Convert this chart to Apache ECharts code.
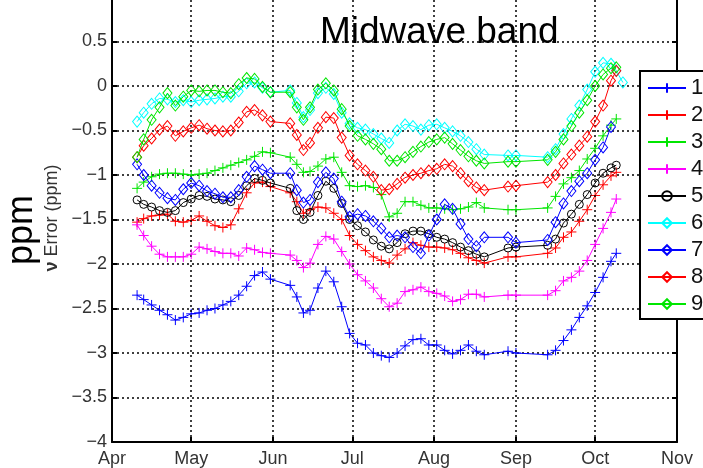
<!DOCTYPE html>
<html>
<head>
<meta charset="utf-8">
<script src="https://cdn.jsdelivr.net/npm/echarts@6/dist/echarts.min.js"></script>
<style>html,body{margin:0;padding:0;background:#fff;}#c{width:703px;height:468px;}</style>
</head>
<body>
<div id="c"></div>
<script>
// Day offsets from Apr 1
var days = [9.5, 12, 15, 18, 21, 24, 27, 30, 33, 36, 39, 42, 45, 48, 51, 54, 57, 60, 67.5, 70, 72.5, 75, 78, 81, 84, 87, 90, 93, 96, 99, 102, 105, 108, 111, 114, 117, 120, 123, 126, 129, 132, 135, 138, 141, 150, 153, 165, 168, 171, 174, 177, 180, 183, 186, 189, 191, 193.5];
var monthDays = [0, 30, 61, 91, 122, 153, 183, 214];
var monthLabels = ['Apr', 'May', 'Jun', 'Jul', 'Aug', 'Sep', 'Oct', 'Nov'];
var seriesNames = ['1', '2', '3', '4', '5', '6', '7', '8', '9'];

var s1 = [-2.35,-2.40,-2.46,-2.52,-2.57,-2.63,-2.60,-2.56,-2.55,-2.52,-2.50,-2.46,-2.42,-2.35,-2.25,-2.13,-2.09,-2.17,-2.24,-2.37,-2.55,-2.52,-2.27,-2.08,-2.20,-2.48,-2.78,-2.89,-2.91,-3.00,-3.03,-3.05,-3.00,-2.92,-2.85,-2.84,-2.91,-2.91,-2.97,-3.01,-2.97,-2.91,-2.98,-3.02,-2.98,-3.00,-3.02,-2.97,-2.86,-2.74,-2.60,-2.47,-2.32,-2.15,-1.97,-1.88,null];
var s2 = [-1.53,-1.49,-1.46,-1.45,-1.44,-1.52,-1.53,-1.51,-1.46,-1.52,-1.57,-1.59,-1.56,-1.38,-1.20,-1.09,-1.08,-1.13,-1.20,-1.30,-1.43,-1.39,-1.36,-1.37,-1.43,-1.50,-1.68,-1.78,-1.85,-1.92,-1.96,-1.99,-1.90,-1.83,-1.76,-1.79,-1.81,-1.81,-1.82,-1.84,-1.88,-1.93,-1.96,-1.99,-1.92,-1.92,-1.88,-1.82,-1.70,-1.64,-1.52,-1.39,-1.23,-1.11,-1.01,-0.97,null];
var s3 = [-1.15,-1.08,-1.02,-0.99,-0.98,-0.98,-0.99,-1.00,-0.99,-0.98,-0.95,-0.92,-0.89,-0.86,-0.83,-0.79,-0.74,-0.75,-0.80,-0.88,-0.97,-0.96,-0.90,-0.82,-0.80,-0.97,-1.12,-1.13,-1.12,-1.14,-1.22,-1.47,-1.43,-1.30,-1.30,-1.34,-1.37,-1.37,-1.38,-1.39,-1.38,-1.36,-1.31,-1.37,-1.39,-1.39,-1.37,-1.24,-1.10,-1.03,-0.95,-0.82,-0.70,-0.56,-0.44,-0.37,null];
var s4 = [-1.56,-1.68,-1.80,-1.89,-1.92,-1.92,-1.92,-1.89,-1.81,-1.83,-1.86,-1.88,-1.88,-1.91,-1.82,-1.84,-1.87,-1.88,-1.90,-1.96,-2.04,-1.99,-1.78,-1.69,-1.72,-1.86,-2.00,-2.12,-2.19,-2.27,-2.39,-2.48,-2.44,-2.31,-2.29,-2.26,-2.31,-2.33,-2.36,-2.42,-2.40,-2.34,-2.34,-2.37,-2.35,-2.35,-2.35,-2.30,-2.19,-2.15,-2.08,-1.96,-1.78,-1.60,-1.42,-1.27,null];
var s5 = [-1.28,-1.33,-1.36,-1.40,-1.42,-1.40,-1.31,-1.27,-1.23,-1.24,-1.27,-1.28,-1.30,-1.23,-1.12,-1.04,-1.06,-1.09,-1.15,-1.40,-1.50,-1.42,-1.23,-1.07,-1.15,-1.32,-1.50,-1.57,-1.64,-1.73,-1.80,-1.83,-1.76,-1.66,-1.63,-1.63,-1.66,-1.70,-1.72,-1.76,-1.81,-1.85,-1.89,-1.92,-1.82,-1.81,-1.79,-1.72,-1.54,-1.44,-1.33,-1.22,-1.09,-0.98,-0.92,-0.89,null];
var s6 = [-0.40,-0.30,-0.20,-0.14,-0.15,-0.18,-0.16,-0.18,-0.16,-0.15,-0.14,-0.12,-0.12,-0.06,0.03,0.04,-0.02,-0.07,-0.05,-0.19,-0.35,-0.27,-0.08,-0.02,-0.09,-0.30,-0.42,-0.47,-0.49,-0.54,-0.59,-0.64,-0.50,-0.43,-0.45,-0.49,-0.44,-0.43,-0.47,-0.51,-0.56,-0.63,-0.71,-0.77,-0.78,-0.78,-0.80,-0.71,-0.54,-0.37,-0.22,-0.04,0.16,0.26,0.25,0.17,0.04];
var s7 = [-0.88,-1.00,-1.12,-1.20,-1.26,-1.28,-1.16,-1.09,-1.12,-1.18,-1.21,-1.25,-1.25,-1.17,-1.02,-0.90,-0.94,-0.98,-0.98,-1.17,-1.31,-1.28,-1.08,-0.97,-1.04,-1.30,-1.47,-1.44,-1.46,-1.52,-1.60,-1.70,-1.68,-1.70,-1.81,-1.88,-1.68,-1.50,-1.33,-1.38,-1.55,-1.72,-1.80,-1.70,-1.70,-1.76,-1.73,-1.53,-1.32,-1.18,-1.07,-0.98,-0.83,-0.69,-0.46,null,null];
var s8 = [-0.80,-0.67,-0.59,-0.49,-0.45,-0.56,-0.51,-0.47,-0.44,-0.48,-0.50,-0.51,-0.50,-0.41,-0.29,-0.27,-0.33,-0.40,-0.42,-0.55,-0.72,-0.64,-0.47,-0.35,-0.36,-0.58,-0.78,-0.88,-0.95,-1.02,-1.17,-1.16,-1.10,-1.03,-1.00,-0.98,-0.95,-0.93,-0.88,-0.90,-0.98,-1.07,-1.14,-1.17,-1.13,-1.12,-1.08,-1.00,-0.87,-0.77,-0.67,-0.57,-0.40,-0.22,0.06,0.17,null];
var s9 = [-0.80,-0.60,-0.38,-0.24,-0.08,-0.22,-0.12,-0.05,-0.06,-0.05,-0.05,-0.07,-0.08,0.02,0.09,0.08,-0.01,-0.07,-0.07,-0.24,-0.38,-0.24,-0.04,0.03,-0.05,-0.26,-0.45,-0.56,-0.60,-0.65,-0.71,-0.84,-0.84,-0.80,-0.74,-0.68,-0.63,-0.60,-0.58,-0.65,-0.72,-0.79,-0.84,-0.87,-0.85,-0.85,-0.83,-0.74,-0.60,-0.45,-0.30,-0.16,0.00,0.13,0.20,0.21,null];

var allValues = [s1, s2, s3, s4, s5, s6, s7, s8, s9];
var colors = ['#0000ff', '#ff0000', '#00e600', '#ff00ff', '#000000', '#00ffff', '#0000ff', '#ff0000', '#00e600'];
var PLUS = 'path://M0,5L10,5M5,0L5,10';
var symbols = [PLUS, PLUS, PLUS, PLUS, 'circle', 'diamond', 'diamond', 'diamond', 'diamond'];
var symbolSizes = [10, 10, 10, 10, 8, [9, 11], [9, 11], [9, 11], [9, 11]];

function pairs(vals) {
  var out = [];
  for (var i = 0; i < days.length; i++) {
    if (vals[i] !== null && vals[i] !== undefined) out.push([days[i], vals[i]]);
  }
  return out;
}

var series = [{
  type: 'line', name: '', data: [], z: 1, silent: true,
  markLine: {
    silent: true, symbol: ['none', 'none'], animation: false,
    label: { show: false },
    lineStyle: { color: '#000', type: [2, 3], width: 1.5 },
    data: monthDays.slice(1, -1).map(function (d) { return { xAxis: d }; })
  }
}];
seriesNames.forEach(function (n, i) {
  series.push({
    type: 'line', name: n, z: 3 + i,
    data: pairs(allValues[i]),
    symbol: symbols[i], symbolSize: symbolSizes[i],
    showAllSymbol: true,
    lineStyle: { color: colors[i], width: 1 },
    itemStyle: { color: 'rgba(0,0,0,0)', borderColor: colors[i], borderWidth: 1 },
    emphasis: { disabled: true }
  });
});

function yfmt(v) {
  if (Math.abs(v) < 1e-9) return '0';
  return v < 0 ? '\u2212' + String(Math.abs(v)) : String(v);
}

var chart = echarts.init(document.getElementById('c'), null, { renderer: 'canvas' });
chart.setOption({
  animation: false,
  backgroundColor: '#fff',
  title: {
    text: 'Midwave band', left: 320, top: 14, padding: 0,
    textStyle: { fontSize: 37, fontWeight: 'normal', color: '#000', fontFamily: 'Liberation Sans' }
  },
  grid: { left: 112, right: 26, top: -3, bottom: 26, outerBoundsMode: 'none', containLabel: false },
  xAxis: {
    type: 'value', min: 0, max: 214,
    axisLine: { show: true, onZero: false, lineStyle: { color: '#000', width: 2 } },
    axisTick: { show: true, inside: true, length: 5, customValues: monthDays, lineStyle: { color: '#000', width: 2 } },
    axisLabel: {
      customValues: monthDays, color: '#333', fontSize: 18, margin: 8, fontFamily: 'Liberation Sans',
      formatter: function (v) { var k = monthDays.indexOf(v); return k >= 0 ? monthLabels[k] : ''; }
    },
    splitLine: { show: false }
  },
  yAxis: [{
    type: 'value', min: -4, max: 1, interval: 0.5,
    axisLine: { show: true, onZero: false, lineStyle: { color: '#000', width: 2 } },
    axisTick: { show: true, inside: true, length: 5, lineStyle: { color: '#000', width: 2 } },
    axisLabel: { color: '#333', fontSize: 18, margin: 5, showMaxLabel: false, formatter: yfmt, fontFamily: 'Liberation Sans' },
    splitLine: { show: true, lineStyle: { color: '#000', type: [2, 3], width: 1.5 } }
  }, {
    type: 'value', min: -4, max: 1, interval: 0.5, position: 'right',
    axisLine: { show: true, onZero: false, lineStyle: { color: '#000', width: 2 } },
    axisTick: { show: true, inside: true, length: 5, lineStyle: { color: '#000', width: 2 } },
    axisLabel: { show: false },
    splitLine: { show: false }
  }],
  legend: {
    orient: 'vertical', left: 640, top: 71,
    padding: [6, 30, 4, 7], itemGap: 5, itemWidth: 38, itemHeight: 12,
    backgroundColor: '#fff', borderColor: '#000', borderWidth: 2, borderRadius: 0,
    selectedMode: false,
    textStyle: { fontSize: 22, color: '#111', lineHeight: 22, fontFamily: 'Liberation Sans' },
    data: seriesNames
  },
  graphic: [{
    type: 'text', x: 22, y: 230, rotation: Math.PI / 2,
    style: { text: 'ppm', fontSize: 36, fontFamily: 'Liberation Sans', fill: '#000', textAlign: 'center', textVerticalAlign: 'middle' }
  }, {
    type: 'text', x: 52, y: 218, rotation: Math.PI / 2,
    style: {
      text: '{b|\u03bd} Error (ppm)', fontSize: 18, fontFamily: 'Liberation Sans', fill: '#333',
      textAlign: 'center', textVerticalAlign: 'middle',
      rich: { b: { fontWeight: 'bold', fontSize: 18, fill: '#333' } }
    }
  }],
  series: series
});
</script>
</body>
</html>
